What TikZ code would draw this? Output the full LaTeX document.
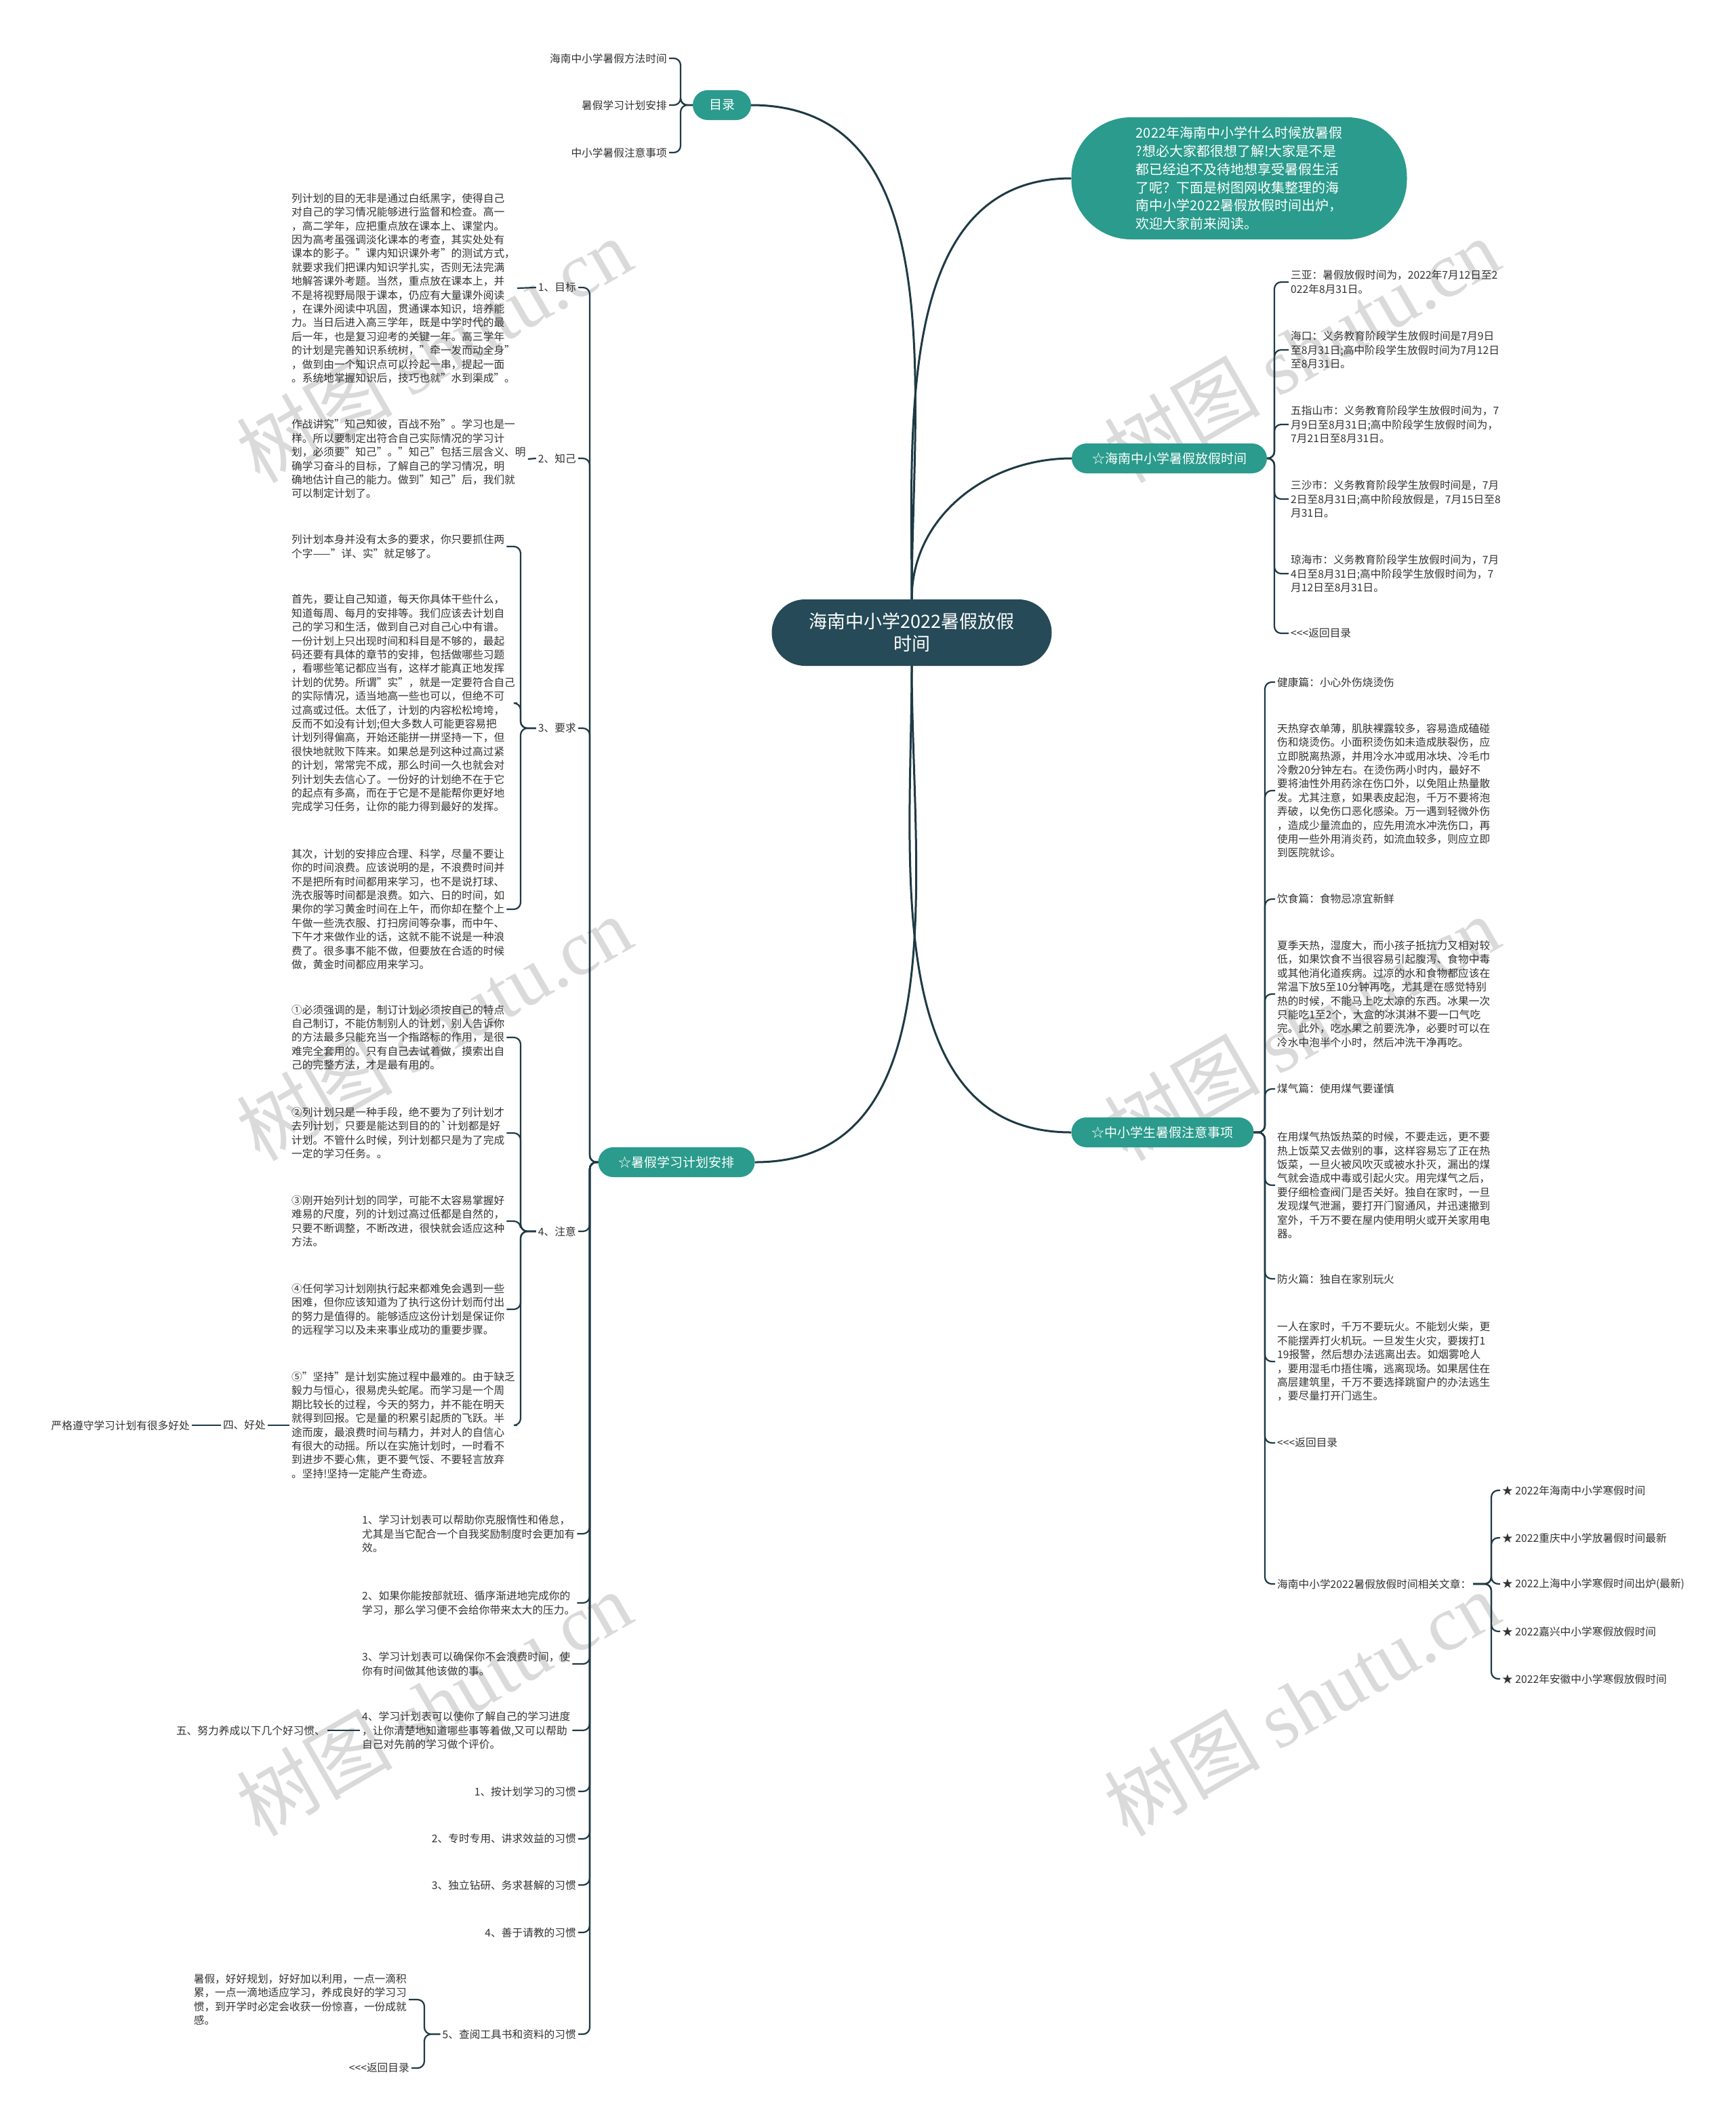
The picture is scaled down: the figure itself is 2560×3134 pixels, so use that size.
\documentclass[tikz,border=0pt]{standalone}
\usepackage{fontspec}
\setmainfont{Noto Sans CJK SC}
\newfontfamily\wmserif{Liberation Serif}
\usepackage{tikz}
\usepackage{xcolor}
\usetikzlibrary{positioning}
\definecolor{rootbg}{HTML}{264A57}
\definecolor{topicbg}{HTML}{2A9B8C}
\definecolor{wire}{HTML}{1E3A45}
\definecolor{ink}{HTML}{333333}
\definecolor{wmark}{HTML}{DADADA}
\newcommand{\bodyfont}{\fontsize{15.7pt}{20.4pt}\selectfont}
\newcommand{\backlink}{<\kern0pt<\kern0pt<返回目录}
\tikzset{
  rootnode/.style={fill=rootbg, text=white, rounded corners=49pt, minimum width=413pt, minimum height=98pt, align=center, font=\fontsize{27pt}{33pt}\selectfont},
  topic/.style={fill=topicbg, text=white, rounded corners=22pt, minimum height=44pt, inner xsep=30pt, font=\fontsize{19pt}{24pt}\selectfont},
  introbox/.style={fill=topicbg, text=white, rounded corners=88pt, minimum width=495pt, minimum height=180pt, align=left, font=\fontsize{20pt}{26.8pt}\selectfont},
  note/.style={text=ink, align=left, inner sep=3pt, font=\bodyfont},
  link/.style={draw=wire, line width=2.2pt, rounded corners=10pt},
  mainlink/.style={draw=wire, line width=3pt},
  wmtext/.style={text=wmark, rotate=30, font=\fontsize{115pt}{115pt}\selectfont},
}

\begin{document}
\begin{tikzpicture}[x=1pt, y=-1pt]
    \fill[white] (0,0) rectangle (2560,3134);
    \useasboundingbox (0,0) rectangle (2560,3134);

    % Watermarks
    \node[wmtext] (wm1) at (640,516) {树图 {\wmserif shutu.cn}};
    \node[wmtext] (wm2) at (640,1516) {树图 {\wmserif shutu.cn}};
    \node[wmtext] (wm3) at (640,2512) {树图 {\wmserif shutu.cn}};
    \node[wmtext] (wm4) at (1920,516) {树图 {\wmserif shutu.cn}};
    \node[wmtext] (wm5) at (1920,1516) {树图 {\wmserif shutu.cn}};
    \node[wmtext] (wm6) at (1920,2512) {树图 {\wmserif shutu.cn}};

    % Root and main topics
    \node[rootnode] (root) at (1345,933) {海南中小学2022暑假放假\\时间};
    \node[topic, inner xsep=24pt] (mulu) at (1065,155) {目录};
    \node[introbox] (intro) at (1828,263) {2022年海南中小学什么时候放暑假\\?想必大家都很想了解!大家是不是\\都已经迫不及待地想享受暑假生活\\了呢？下面是树图网收集整理的海\\南中小学2022暑假放假时间出炉，\\欢迎大家前来阅读。};
    \node[topic] (hn) at (1725,676) {☆海南中小学暑假放假时间};
    \node[topic] (zy) at (1715,1670) {☆中小学生暑假注意事项};
    \node[topic] (jh) at (998,1714) {☆暑假学习计划安排};

    \draw[mainlink] (root.north) to[out=90,in=0] (mulu.east);
    \draw[mainlink] (root.north) to[out=90,in=180] (intro.west);
    \draw[mainlink] (root.north) to[out=90,in=180] (hn.west);
    \draw[mainlink] (root.south) to[out=-90,in=180] (zy.west);
    \draw[mainlink] (root.south) to[out=-90,in=0] (jh.east);

    % Contents
    \node[note, anchor=east] (m1) at (987,86) {海南中小学暑假方法时间};
    \node[note, anchor=east] (m2) at (987,155) {暑假学习计划安排};
    \node[note, anchor=east] (m3) at (987,225) {中小学暑假注意事项};
    \coordinate (mulub) at (1004,155);
    \draw[link] (mulu.west) -- (mulub) |- (m1.east);
    \draw[link] (mulu.west) -- (mulub) |- (m2.east);
    \draw[link] (mulu.west) -- (mulub) |- (m3.east);

    % Holiday dates
    \node[note, anchor=west] (sy) at (1901,416) {三亚：暑假放假时间为，2022年7月12日至2\\022年8月31日。};
    \node[note, anchor=west] (hk) at (1901,516) {海口：义务教育阶段学生放假时间是7月9日\\至8月31日;高中阶段学生放假时间为7月12日\\至8月31日。};
    \node[note, anchor=west] (wz) at (1901,626) {五指山市：义务教育阶段学生放假时间为，7\\月9日至8月31日;高中阶段学生放假时间为，\\7月21日至8月31日。};
    \node[note, anchor=west] (ss) at (1901,736) {三沙市：义务教育阶段学生放假时间是，7月\\2日至8月31日;高中阶段放假是，7月15日至8\\月31日。};
    \node[note, anchor=west] (qh) at (1901,846) {琼海市：义务教育阶段学生放假时间为，7月\\4日至8月31日;高中阶段学生放假时间为，7\\月12日至8月31日。};
    \node[note, anchor=west] (back1) at (1901,934) {\backlink};
    \coordinate (hnb) at (1880,676);
    \draw[link] (hn.east) -- (hnb) |- (sy.west);
    \draw[link] (hn.east) -- (hnb) |- (hk.west);
    \draw[link] (hn.east) -- (hnb) |- (wz.west);
    \draw[link] (hn.east) -- (hnb) |- (ss.west);
    \draw[link] (hn.east) -- (hnb) |- (qh.west);
    \draw[link] (hn.east) -- (hnb) |- (back1.west);

    % Safety notes
    \node[note, anchor=west] (jk1) at (1881,1006) {健康篇：小心外伤烧烫伤};
    \node[note, anchor=west] (jk2) at (1881,1166) {天热穿衣单薄，肌肤裸露较多，容易造成磕碰\\伤和烧烫伤。小面积烫伤如未造成肤裂伤，应\\立即脱离热源，并用冷水冲或用冰块、冷毛巾\\冷敷20分钟左右。在烫伤两小时内，最好不\\要将油性外用药涂在伤口外，以免阻止热量散\\发。尤其注意，如果表皮起泡，千万不要将泡\\弄破，以免伤口恶化感染。万一遇到轻微外伤\\，造成少量流血的，应先用流水冲洗伤口，再\\使用一些外用消炎药，如流血较多，则应立即\\到医院就诊。};
    \node[note, anchor=west] (ys1) at (1881,1326) {饮食篇：食物忌凉宜新鲜};
    \node[note, anchor=west] (ys2) at (1881,1466) {夏季天热，湿度大，而小孩子抵抗力又相对较\\低，如果饮食不当很容易引起腹泻、食物中毒\\或其他消化道疾病。过凉的水和食物都应该在\\常温下放5至10分钟再吃，尤其是在感觉特别\\热的时候，不能马上吃太凉的东西。冰果一次\\只能吃1至2个，大盒的冰淇淋不要一口气吃\\完。此外，吃水果之前要洗净，必要时可以在\\冷水中泡半个小时，然后冲洗干净再吃。};
    \node[note, anchor=west] (mq1) at (1881,1606) {煤气篇：使用煤气要谨慎};
    \node[note, anchor=west] (mq2) at (1881,1748) {在用煤气热饭热菜的时候，不要走远，更不要\\热上饭菜又去做别的事，这样容易忘了正在热\\饭菜，一旦火被风吹灭或被水扑灭，漏出的煤\\气就会造成中毒或引起火灾。用完煤气之后，\\要仔细检查阀门是否关好。独自在家时，一旦\\发现煤气泄漏，要打开门窗通风，并迅速撤到\\室外，千万不要在屋内使用明火或开关家用电\\器。};
    \node[note, anchor=west] (fh1) at (1881,1886) {防火篇：独自在家别玩火};
    \node[note, anchor=west] (fh2) at (1881,2008) {一人在家时，千万不要玩火。不能划火柴，更\\不能摆弄打火机玩。一旦发生火灾，要拨打1\\19报警，然后想办法逃离出去。如烟雾呛人\\，要用湿毛巾捂住嘴，逃离现场。如果居住在\\高层建筑里，千万不要选择跳窗户的办法逃生\\，要尽量打开门逃生。};
    \node[note, anchor=west] (back2) at (1881,2128) {\backlink};
    \node[note, anchor=west] (xg) at (1881,2336) {海南中小学2022暑假放假时间相关文章：};
    \coordinate (zyb) at (1866,1670);
    \draw[link] (zy.east) -- (zyb) |- (jk1.west);
    \draw[link] (zy.east) -- (zyb) |- (jk2.west);
    \draw[link] (zy.east) -- (zyb) |- (ys1.west);
    \draw[link] (zy.east) -- (zyb) |- (ys2.west);
    \draw[link] (zy.east) -- (zyb) |- (mq1.west);
    \draw[link] (zy.east) -- (zyb) |- (mq2.west);
    \draw[link] (zy.east) -- (zyb) |- (fh1.west);
    \draw[link] (zy.east) -- (zyb) |- (fh2.west);
    \draw[link] (zy.east) -- (zyb) |- (back2.west);
    \draw[link] (zy.east) -- (zyb) |- (xg.west);

    \node[note, anchor=west] (a1) at (2213,2198) {★ 2022年海南中小学寒假时间};
    \node[note, anchor=west] (a2) at (2213,2268) {★ 2022重庆中小学放暑假时间最新};
    \node[note, anchor=west] (a3) at (2213,2336) {★ 2022上海中小学寒假时间出炉(最新)};
    \node[note, anchor=west] (a4) at (2213,2406) {★ 2022嘉兴中小学寒假放假时间};
    \node[note, anchor=west] (a5) at (2213,2476) {★ 2022年安徽中小学寒假放假时间};
    \coordinate (xgb) at (2200,2336);
    \draw[link] (xg.east) -- (xgb) |- (a1.west);
    \draw[link] (xg.east) -- (xgb) |- (a2.west);
    \draw[link] (xg.east) -- (xgb) |- (a3.west);
    \draw[link] (xg.east) -- (xgb) |- (a4.west);
    \draw[link] (xg.east) -- (xgb) |- (a5.west);

    % Study plan
    \node[note, anchor=east] (l1) at (853,424) {1、目标};
    \node[note, anchor=east] (l2) at (853,676) {2、知己};
    \node[note, anchor=east] (l3) at (853,1074) {3、要求};
    \node[note, anchor=east] (l4) at (853,1816) {4、注意};
    \node[note, anchor=west] (f1) at (531,2262) {1、学习计划表可以帮助你克服惰性和倦怠，\\尤其是当它配合一个自我奖励制度时会更加有\\效。};
    \node[note, anchor=west] (f2) at (531,2364) {2、如果你能按部就班、循序渐进地完成你的\\学习，那么学习便不会给你带来太大的压力。};
    \node[note, anchor=west] (f3) at (531,2454) {3、学习计划表可以确保你不会浪费时间，使\\你有时间做其他该做的事。};
    \node[note, anchor=west] (f4) at (531,2552) {4、学习计划表可以使你了解自己的学习进度\\，让你清楚地知道哪些事等着做,又可以帮助\\自己对先前的学习做个评价。};
    \node[note, anchor=east] (h1) at (853,2642) {1、按计划学习的习惯};
    \node[note, anchor=east] (h2) at (853,2712) {2、专时专用、讲求效益的习惯};
    \node[note, anchor=east] (h3) at (853,2780) {3、独立钻研、务求甚解的习惯};
    \node[note, anchor=east] (h4) at (853,2850) {4、善于请教的习惯};
    \node[note, anchor=east] (h5) at (853,3000) {5、查阅工具书和资料的习惯};
    \coordinate (jhb) at (870,1714);
    \draw[link] (jh.west) -- (jhb) |- (l1.east);
    \draw[link] (jh.west) -- (jhb) |- (l2.east);
    \draw[link] (jh.west) -- (jhb) |- (l3.east);
    \draw[link] (jh.west) -- (jhb) |- (l4.east);
    \draw[link] (jh.west) -- (jhb) |- (f1.east);
    \draw[link] (jh.west) -- (jhb) |- (f2.east);
    \draw[link] (jh.west) -- (jhb) |- (f3.east);
    \draw[link] (jh.west) -- (jhb) |- (f4.east);
    \draw[link] (jh.west) -- (jhb) |- (h1.east);
    \draw[link] (jh.west) -- (jhb) |- (h2.east);
    \draw[link] (jh.west) -- (jhb) |- (h3.east);
    \draw[link] (jh.west) -- (jhb) |- (h4.east);
    \draw[link] (jh.west) -- (jhb) |- (h5.east);

    \node[note, anchor=west] (t1) at (427,425) {列计划的目的无非是通过白纸黑字，使得自己\\对自己的学习情况能够进行监督和检查。高一\\，高二学年，应把重点放在课本上、课堂内。\\因为高考虽强调淡化课本的考查，其实处处有\\课本的影子。"课内知识课外考"的测试方式，\\就要求我们把课内知识学扎实，否则无法完满\\地解答课外考题。当然，重点放在课本上，并\\不是将视野局限于课本，仍应有大量课外阅读\\，在课外阅读中巩固，贯通课本知识，培养能\\力。当日后进入高三学年，既是中学时代的最\\后一年，也是复习迎考的关键一年。高三学年\\的计划是完善知识系统树，"牵一发而动全身"\\，做到由一个知识点可以拎起一串，提起一面\\。系统地掌握知识后，技巧也就"水到渠成"。};
    \node[note, anchor=west] (t2) at (427,677) {作战讲究"知己知彼，百战不殆"。学习也是一\\样。所以要制定出符合自己实际情况的学习计\\划，必须要"知己"。"知己"包括三层含义、明\\确学习奋斗的目标，了解自己的学习情况，明\\确地估计自己的能力。做到"知己"后，我们就\\可以制定计划了。};
    \draw[link] (l1.west) -- (t1.east);
    \draw[link] (l2.west) -- (t2.east);

    \node[note, anchor=west] (r1) at (427,806) {列计划本身并没有太多的要求，你只要抓住两\\个字——"详、实"就足够了。};
    \node[note, anchor=west] (r2) at (427,1037) {首先，要让自己知道，每天你具体干些什么，\\知道每周、每月的安排等。我们应该去计划自\\己的学习和生活，做到自己对自己心中有谱。\\一份计划上只出现时间和科目是不够的，最起\\码还要有具体的章节的安排，包括做哪些习题\\，看哪些笔记都应当有，这样才能真正地发挥\\计划的优势。所谓"实"，就是一定要符合自己\\的实际情况，适当地高一些也可以，但绝不可\\过高或过低。太低了，计划的内容松松垮垮，\\反而不如没有计划;但大多数人可能更容易把\\计划列得偏高，开始还能拼一拼坚持一下，但\\很快地就败下阵来。如果总是列这种过高过紧\\的计划，常常完不成，那么时间一久也就会对\\列计划失去信心了。一份好的计划绝不在于它\\的起点有多高，而在于它是不是能帮你更好地\\完成学习任务，让你的能力得到最好的发挥。};
    \node[note, anchor=west] (r3) at (427,1341) {其次，计划的安排应合理、科学，尽量不要让\\你的时间浪费。应该说明的是，不浪费时间并\\不是把所有时间都用来学习，也不是说打球、\\洗衣服等时间都是浪费。如六、日的时间，如\\果你的学习黄金时间在上午，而你却在整个上\\午做一些洗衣服、打扫房间等杂事，而中午、\\下午才来做作业的话，这就不能不说是一种浪\\费了。很多事不能不做，但要放在合适的时候\\做，黄金时间都应用来学习。};
    \coordinate (l3b) at (768,1074);
    \draw[link] (l3.west) -- (l3b) |- (r1.east);
    \draw[link] (l3.west) -- (l3b) |- (r2.east);
    \draw[link] (l3.west) -- (l3b) |- (r3.east);

    \node[note, anchor=west] (n1) at (427,1530) {①必须强调的是，制订计划必须按自己的特点\\自己制订，不能仿制别人的计划，别人告诉你\\的方法最多只能充当一个指路标的作用，是很\\难完全套用的。只有自己去试着做，摸索出自\\己的完整方法，才是最有用的。};
    \node[note, anchor=west] (n2) at (427,1671) {②列计划只是一种手段，绝不要为了列计划才\\去列计划，只要是能达到目的的\textasciigrave 计划都是好\\计划。不管什么时候，列计划都只是为了完成\\一定的学习任务。。};
    \node[note, anchor=west] (n3) at (427,1801) {③刚开始列计划的同学，可能不太容易掌握好\\难易的尺度，列的计划过高过低都是自然的，\\只要不断调整，不断改进，很快就会适应这种\\方法。};
    \node[note, anchor=west] (n4) at (427,1931) {④任何学习计划刚执行起来都难免会遇到一些\\困难，但你应该知道为了执行这份计划而付出\\的努力是值得的。能够适应这份计划是保证你\\的远程学习以及未来事业成功的重要步骤。};
    \node[note, anchor=west] (n5) at (427,2102) {⑤"坚持"是计划实施过程中最难的。由于缺乏\\毅力与恒心，很易虎头蛇尾。而学习是一个周\\期比较长的过程，今天的努力，并不能在明天\\就得到回报。它是量的积累引起质的飞跃。半\\途而废，最浪费时间与精力，并对人的自信心\\有很大的动摇。所以在实施计划时，一时看不\\到进步不要心焦，更不要气馁、不要轻言放弃\\。坚持!坚持一定能产生奇迹。};
    \coordinate (l4b) at (768,1816);
    \draw[link] (l4.west) -- (l4b) |- (n1.east);
    \draw[link] (l4.west) -- (l4b) |- (n2.east);
    \draw[link] (l4.west) -- (l4b) |- (n3.east);
    \draw[link] (l4.west) -- (l4b) |- (n4.east);
    \draw[link] (l4.west) -- (l4b) |- (n5.east);

    \node[note, anchor=east] (hc) at (395,2102) {四、好处};
    \node[note, anchor=east] (yg) at (283,2102) {严格遵守学习计划有很多好处};
    \draw[link] (n5.west) -- (hc.east);
    \draw[link] (hc.west) -- (yg.east);

    \node[note, anchor=east] (wu) at (483,2552) {五、努力养成以下几个好习惯、};
    \draw[link] (f4.west) -- (wu.east);

    \node[note, anchor=east] (sj) at (603,2949) {暑假，好好规划，好好加以利用，一点一滴积\\累，一点一滴地适应学习，养成良好的学习习\\惯，到开学时必定会收获一份惊喜，一份成就\\感。};
    \node[note, anchor=east] (back3) at (607,3050) {\backlink};
    \coordinate (h5b) at (626,3000);
    \draw[link] (h5.west) -- (h5b) |- (sj.east);
    \draw[link] (h5.west) -- (h5b) |- (back3.east);

\end{tikzpicture}
\end{document}
